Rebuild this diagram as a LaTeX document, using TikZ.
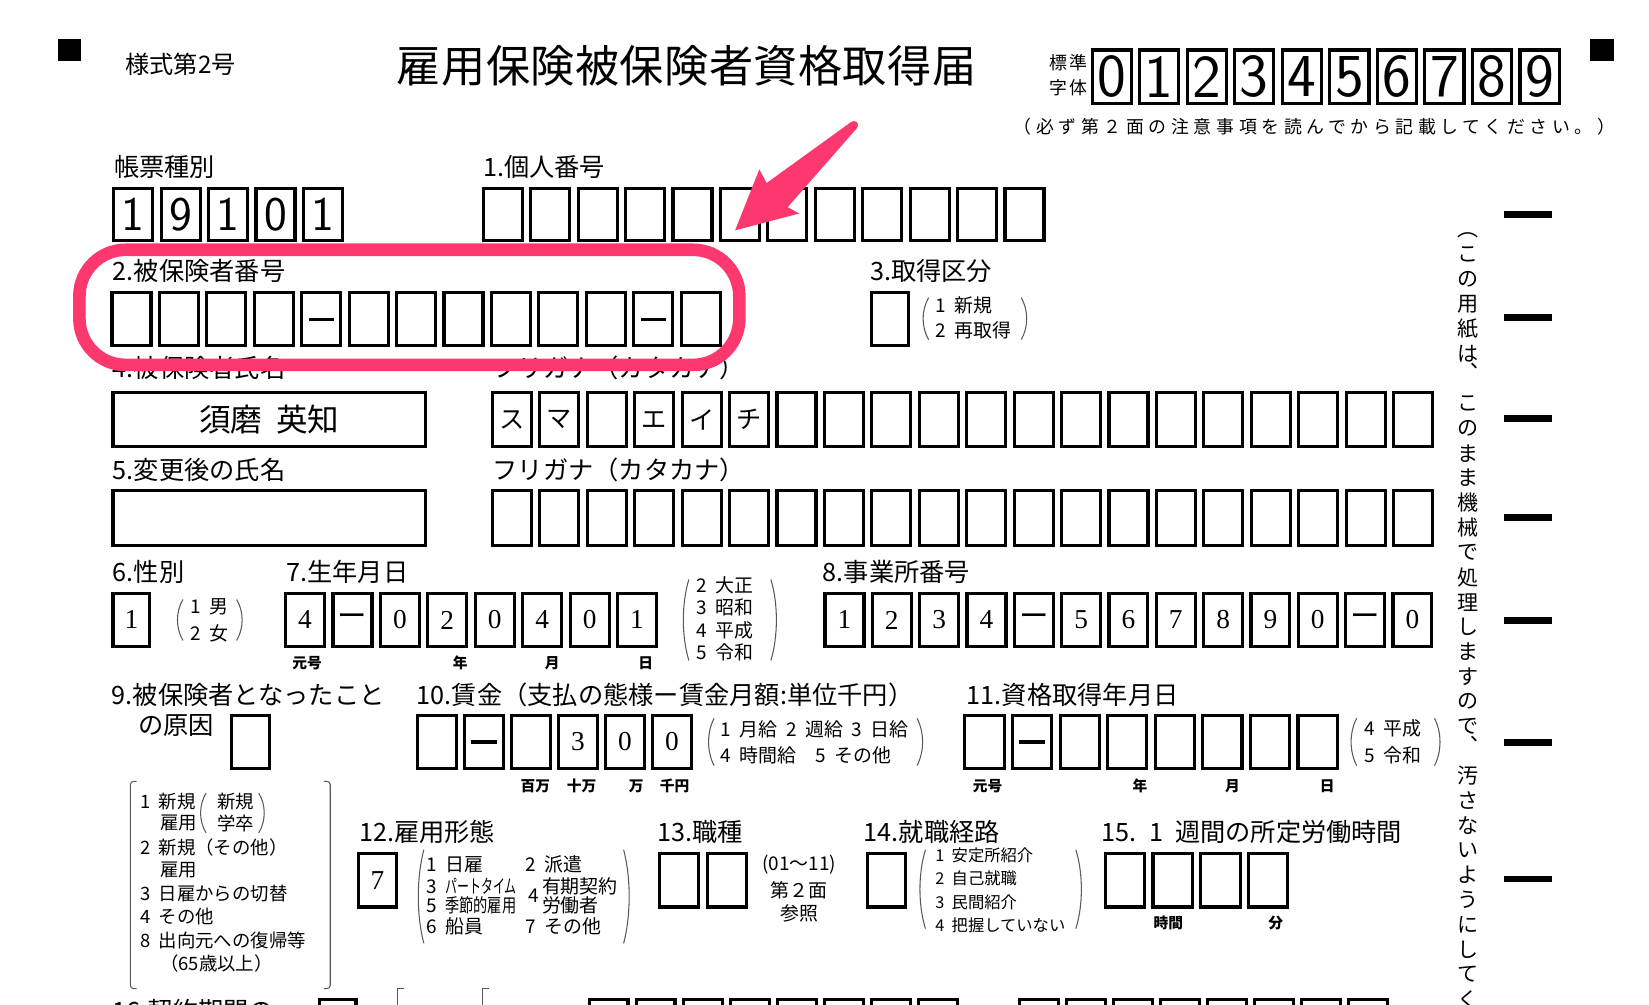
\documentclass[tikz,border=0pt]{standalone}
\usepackage{fontspec}
\setmainfont{Noto Sans CJK JP}[WordSpace=2]
\newfontfamily\jp{Noto Sans CJK JP}
\newfontfamily\sernum{Liberation Serif}
\definecolor{skitch}{RGB}{252,56,110}
\newcommand\fsz[1]{\fontsize{#1pt}{#1pt}\selectfont}
\newcommand\pdash{\rule{12pt}{1.5pt}}
% name, x-left, y-top, pitch, height, style, contents
\newcommand\cells[7]{%
  \foreach \c [count=\i] in {#7} {%
    \node[cell, minimum width={(#4-8)*0.5pt}, minimum height={(#5-3)*0.5pt}, #6] (#1-\i) at ({#2+(\i-1)*#4+(#4-5)/2}, {#3+#5/2}) {\c};
  }}
\newcommand\lpar[3]{\draw[paren] ({#1+6},#2) .. controls ({#1-1},{#2+(#3-#2)*0.3}) and ({#1-1},{#2+(#3-#2)*0.7}) .. ({#1+6},#3);}
\newcommand\rpar[3]{\draw[paren] ({#1-6},#2) .. controls ({#1+1},{#2+(#3-#2)*0.3}) and ({#1+1},{#2+(#3-#2)*0.7}) .. ({#1-6},#3);}
\begin{document}
\begin{tikzpicture}[x=0.5pt,y=-0.5pt,
  cell/.style={draw, line width=1.5pt, inner sep=0pt},
  lab/.style={anchor=west, inner sep=0pt, font=\fsz{12}},
  opt/.style={anchor=west, inner sep=0pt, font=\fsz{9}},
  sopt/.style={anchor=west, inner sep=0pt, font=\fsz{7.75}},
  ctr/.style={inner sep=0pt, font=\fsz{9}},
  sub/.style={inner sep=0pt, font=\bfseries\fsz{7}},
  vch/.style={inner sep=0pt, font=\fsz{10}},
  paren/.style={line width=0.5pt, black!65},
  bar/.style={line width=3pt}]
\useasboundingbox (0,0) rectangle (1568,954.7);

% corner marks
\fill (55,37) rectangle (77,58);
\fill (1512,37) rectangle (1535,58);

% header
\node[anchor=west, inner sep=0pt, font=\fsz{11.5}] (form) at (119,61) {様式第2号};
\node[anchor=west, inner sep=0pt, font=\fsz{21}\addfontfeatures{LetterSpace=1}] (title) at (377,62.6) {雇用保険被保険者資格取得届};
\node[inner sep=0pt, font=\fsz{8.5}\addfontfeatures{LetterSpace=12}] (hyo) at (1016,60) {標準};
\node[inner sep=0pt, font=\fsz{8.5}\addfontfeatures{LetterSpace=12}] (ji) at (1016,83) {字体};
\cells{std}{1037}{46}{45.2}{54}{font=\sffamily\fsz{29}}{0,1,2,3,4,5,6,7,8,9}
\node[inner sep=0pt, font=\fsz{8.5}\addfontfeatures{LetterSpace=26}] (note) at (1250,120.5) {（必ず第２面の注意事項を読んでから記載してください。）};

% row 1
\node[lab] (l0) at (108,158.6) {帳票種別};
\cells{kind}{106.6}{178}{45.1}{52}{font=\sffamily\fsz{23}}{1,9,1,0,1}
\node[lab] (l1) at (459,158.6) {1.個人番号};
\cells{my}{458}{178}{45.1}{52}{}{{},{},{},{},{},{},{},{},{},{},{},{}}

% row 2
\node[lab] (l2) at (107,257.5) {2.被保険者番号};
\cells{ins}{105}{277}{45.1}{53}{}{{},{},{},{},\pdash,{},{},{},{},{},{},\pdash,{}}
\node[lab] (l3) at (827,257.5) {3.取得区分};
\node[cell, minimum width=17.5pt, minimum height=25pt] (b3) at (846,303.5) {};
\lpar{877}{283}{323}\rpar{977}{283}{323}
\node[opt] (o3a) at (889,290) {1 新規};
\node[opt] (o3b) at (889,314) {2 再取得};

% row 3
\node[lab] (l4) at (107,350) {4.被保険者氏名};
\node[lab] (lk1) at (468,350) {フリガナ（カタカナ）};
\node[cell, minimum width=148.5pt, minimum height=25.5pt, font=\fsz{15}] (name) at (256,399) {須磨 英知};
\cells{kana}{466.7}{372}{45.1}{54}{font=\fsz{12}}{ス,マ,{},エ,イ,チ,{},{},{},{},{},{},{},{},{},{},{},{},{},{}}

% row 4
\node[lab] (l5) at (107,447) {5.変更後の氏名};
\node[lab] (lk2) at (468,447) {フリガナ（カタカナ）};
\node[cell, minimum width=148.5pt, minimum height=26pt] (name2) at (256,492.5) {};
\cells{kanb}{466.7}{465}{45.1}{55}{}{{},{},{},{},{},{},{},{},{},{},{},{},{},{},{},{},{},{},{},{}}

% row 5
\node[lab] (l6) at (107,544) {6.性別};
\node[cell, minimum width=17.5pt, minimum height=25pt, font=\sernum\fsz{13}] (b6) at (125,589.5) {1};
\lpar{168}{570}{609}\rpar{231}{570}{609}
\node[opt] (o6a) at (181,577) {1 男};
\node[opt] (o6b) at (181,602) {2 女};
\node[lab] (l7) at (272,544) {7.生年月日};
\cells{birth}{270}{563}{45.1}{53}{font=\sernum\fsz{13}}{4,{\jp\fsz{14}ー},0,2,0,4,0,1}
\node[sub] (s7a) at (292,630.6) {元号};
\node[sub] (s7b) at (437.6,630.6) {年};
\node[sub] (s7c) at (525,630.6) {月};
\node[sub] (s7d) at (614,630.6) {日};
\lpar{649}{551}{628}\rpar{739}{551}{628}
\node[opt] (o7a) at (662,556.6) {2 大正};
\node[opt] (o7b) at (662,578) {3 昭和};
\node[opt] (o7c) at (662,599) {4 平成};
\node[opt] (o7d) at (662,620) {5 令和};
\node[lab] (l8) at (782,544) {8.事業所番号};
\cells{off}{783}{563}{45.0}{53}{font=\sernum\fsz{13}}{1,2,3,4,{\jp\fsz{14}ー},5,6,7,8,9,0,{\jp\fsz{14}ー},0}

% row 6
\node[lab] (l9) at (106,661) {9.被保険者となったこと};
\node[lab] (l9b) at (131,689.5) {の原因};
\node[cell, minimum width=18pt, minimum height=25pt] (b9) at (238.5,705.5) {};
\node[lab] (l10) at (396,661) {10.賃金（支払の態様ー賃金月額:単位千円）};
\cells{wage}{395.6}{679}{44.7}{53}{font=\sernum\fsz{13}}{{},\pdash,{},3,0,0}
\node[sub] (s10a) at (509,747.6) {百万};
\node[sub] (s10b) at (553,747.6) {十万};
\node[sub] (s10c) at (605,747.6) {万};
\node[sub] (s10d) at (641.5,747.6) {千円};
\lpar{673}{683}{728}\rpar{878}{683}{728}
\node[opt] (o10a) at (685,693.5) {1 月給 2 週給 3 日給};
\node[opt] (o10b) at (685,718) {4 時間給　5 その他};
\node[lab] (l11) at (919,661) {11.資格取得年月日};
\cells{acq}{916}{679}{45.25}{53}{}{{},\pdash,{},{},{},{},{},{}}
\node[sub] (s11a) at (939,747.6) {元号};
\node[sub] (s11b) at (1084,747.6) {年};
\node[sub] (s11c) at (1172,747.6) {月};
\node[sub] (s11d) at (1262,747.6) {日};
\lpar{1284}{683}{728}\rpar{1370}{683}{728}
\node[opt] (o11a) at (1297,692.6) {4 平成};
\node[opt] (o11b) at (1297,718) {5 令和};

% option list of 9
\draw[paren, rounded corners=1.5pt] (130,743) -- (124,743) -- (124,940) -- (130,940);
\draw[paren, rounded corners=1.5pt] (308,743) -- (314,743) -- (314,940) -- (308,940);
\node[anchor=west, inner sep=0pt, font=\fsz{8.75}] (o9a) at (133,762) {1 新規};
\node[anchor=west, inner sep=0pt, font=\fsz{8.75}] (o9b) at (152,783) {雇用};
\lpar{190}{754}{792}\rpar{252}{754}{792}
\node[anchor=west, inner sep=0pt, font=\fsz{8.75}] (o9c) at (206,762) {新規};
\node[anchor=west, inner sep=0pt, font=\fsz{8.75}] (o9d) at (206,783) {学卒};
\node[anchor=west, inner sep=0pt, font=\fsz{8.75}] (o9e) at (133,805.6) {2 新規（その他）};
\node[anchor=west, inner sep=0pt, font=\fsz{8.75}] (o9f) at (152,827) {雇用};
\node[anchor=west, inner sep=0pt, font=\fsz{8.75}] (o9g) at (133,850) {3 日雇からの切替};
\node[anchor=west, inner sep=0pt, font=\fsz{8.75}] (o9h) at (133,871.7) {4 その他};
\node[anchor=west, inner sep=0pt, font=\fsz{8.75}] (o9i) at (133,894.5) {8 出向元への復帰等};
\node[anchor=west, inner sep=0pt, font=\fsz{8.75}] (o9j) at (152,916) {（65歳以上）};

% row 7
\node[lab] (l12) at (341,791) {12.雇用形態};
\node[cell, minimum width=18pt, minimum height=25.5pt, font=\sernum\fsz{13}] (b12) at (359,837) {7};
\lpar{397}{808}{897}\rpar{599}{808}{897}
\node[opt] (o12a) at (405,822) {1 日雇};
\node[opt] (o12b) at (499,822) {2 派遣};
\node[opt] (o12c) at (405,843) {3 \scalebox{0.63}[1]{パートタイム}};
\node[opt] (o12d) at (502,852) {4};
\node[opt] (o12e) at (515,843) {有期契約};
\node[opt] (o12f) at (405,861) {5 \scalebox{0.75}[1]{季節的雇用}};
\node[opt] (o12g) at (515,861) {労働者};
\node[opt] (o12h) at (405,881) {6 船員};
\node[opt] (o12i) at (499,881) {7 その他};
\node[lab] (l13) at (625,791) {13.職種};
\cells{job}{625.5}{810}{45.5}{54}{}{{},{}}
\node[ctr] (o13a) at (760,822) {(01〜11)};
\node[ctr] (o13b) at (760,846.5) {第２面};
\node[ctr] (o13c) at (760,868.5) {参照};
\node[lab] (l14) at (821,791) {14.就職経路};
\node[cell, minimum width=18pt, minimum height=25.5pt] (b14) at (843,837) {};
\lpar{874}{808}{883}\rpar{1029}{808}{883}
\node[sopt] (o14a) at (889,813) {1 安定所紹介};
\node[sopt] (o14b) at (889,835) {2 自己就職};
\node[sopt] (o14c) at (889,857.5) {3 民間紹介};
\node[sopt] (o14d) at (889,880) {4 把握していない};
\node[lab] (l15) at (1047,791) {15. 1 週間の所定労働時間};
\cells{hrs}{1049.5}{810}{45.4}{54}{}{{},{},{},{}}
\node[sub] (s15a) at (1111,878) {時間};
\node[sub] (s15b) at (1213,878) {分};

% row 8 (cut off by the page edge)
\node[lab] (l16) at (107,961) {16.契約期間の};
\node[cell, minimum width=17.5pt, minimum height=25pt] (b16) at (321,975) {};
\draw[paren] (384,940) -- (378,940) -- (378,962);
\draw[paren] (465,940) -- (459,940) -- (459,962);
\cells{ca}{559}{949}{44.7}{53}{}{{},{},{},{},{},{},{},{}}
\cells{cb}{968}{949}{44.7}{53}{}{{},{},{},{},{},{},{},{}}

% vertical note
\node[vch] (v0) at (1396,223.5) {︵};
\foreach \c [count=\i] in {こ,の,用,紙,は,{},こ,の,ま,ま,機,械,で,処,理,し,ま,す,の,で,{},汚,さ,な,い,よ,う,に,し,て,く}
  \node[vch] (v\i) at (1396,{218.6+23.6*\i}) {\c};
\node[vch] (vc1) at (1396,354) {︑};
\node[vch] (vc2) at (1396,708) {︑};

% right margin bars
\foreach \y [count=\k] in {204,302,398,492,590,706,836}
  \draw[bar] (1430,\y) -- (1476,\y);

% annotations
\draw[skitch, line width=6pt, rounded corners=22pt] (75.5,237.5) rectangle (703,347);
\fill[skitch] (809.3,116) -- (729,174) -- (722,161) -- (699,219) -- (760,203) -- (749,197) -- (814.7,122) -- cycle;
\fill[skitch] (812,119) circle[radius=4];
\end{tikzpicture}
\end{document}
